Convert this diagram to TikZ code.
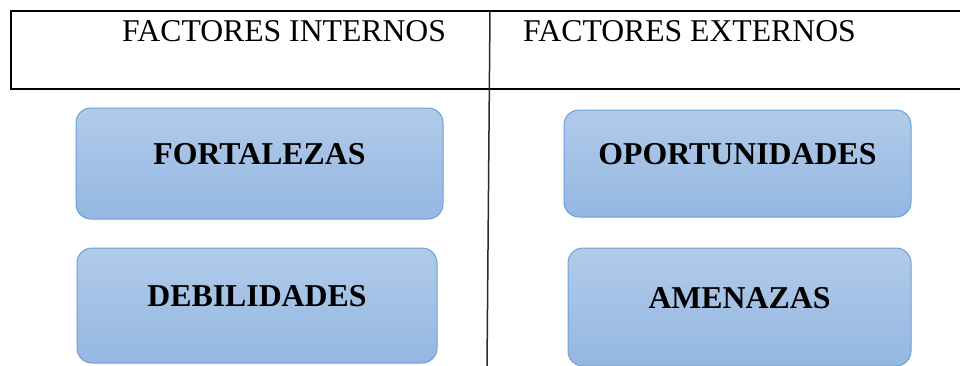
\documentclass[tikz,border=0pt]{standalone}
\usepackage{fontspec}
\setmainfont{Liberation Serif}
\usepackage{xcolor}
\usepackage{tikz}
\usetikzlibrary{calc}
\definecolor{frame}{HTML}{000000}
\definecolor{divider}{HTML}{2A2A2A}
\definecolor{boxtop}{HTML}{B1CBE9}
\definecolor{boxbot}{HTML}{94B7E2}
\definecolor{boxline}{HTML}{6A9FD8}
\tikzset{
  head/.style={draw=frame, line width=1.6pt},
  split/.style={draw=divider, line width=1.5pt},
  title/.style={anchor=base west, inner sep=0pt, font=\fontsize{31.7}{36}\selectfont},
  card/.style={draw=boxline, line width=1pt, rounded corners=15pt,
    top color=boxtop, bottom color=boxbot, inner sep=0pt,
    text height=10pt, text depth=8pt, font=\fontsize{31.8}{36}\selectfont\bfseries},
}
\begin{document}
\begin{tikzpicture}[x=1pt,y=-1pt]
  \useasboundingbox (0,0) rectangle (960,365);
  \fill[white] (0,0) rectangle (960,365);
  \coordinate (TL) at (11,11);
  \coordinate (BR) at (980,89);
  \coordinate (midtop) at (490,11);
  \coordinate (midbot) at (487,368);
  \draw[head] (TL) rectangle (BR);
  \draw[split] (midtop) -- (midbot);
  \node[title] (int) at (122,41) {FACTORES INTERNOS};
  \node[title] (ext) at (523,41) {FACTORES EXTERNOS};
  \node[card, minimum width=367pt, minimum height=111pt] (fort) at (259.5,163.5) {FORTALEZAS};
  \node[card, minimum width=347pt, minimum height=107pt] (opor) at (737.5,163.5) {OPORTUNIDADES};
  \node[card, minimum width=360pt, minimum height=115pt] (debi) at (257,305.5) {DEBILIDADES};
  \node[card, minimum width=343pt, minimum height=118pt] (amen) at (739.5,307) {AMENAZAS};
\end{tikzpicture}
\end{document}
